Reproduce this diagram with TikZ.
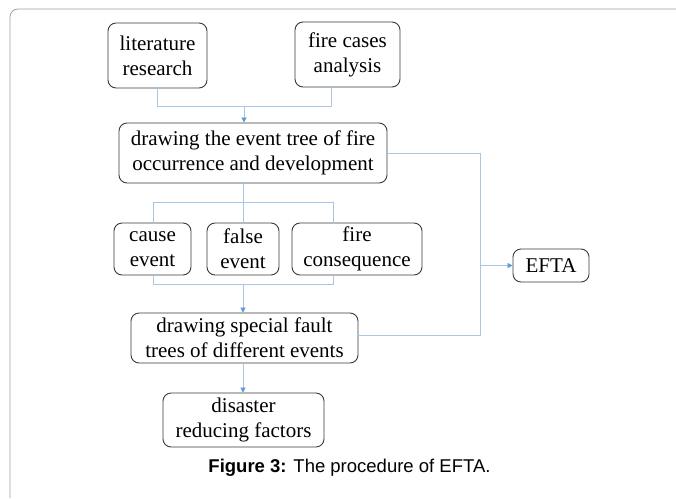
\documentclass[tikz,border=0pt]{standalone}
\usepackage{fontspec}
\setmainfont{Liberation Serif}
\newfontfamily\capfont{Liberation Sans}
\usetikzlibrary{arrows.meta}
\definecolor{lnk}{HTML}{A8C6E6}
\definecolor{arr}{HTML}{5B9BD5}
\definecolor{bd}{HTML}{3A3A3A}
\definecolor{frm}{HTML}{A0A0A0}
\begin{document}
\begin{tikzpicture}[x=1pt,y=-1pt,
  box/.style={draw=bd, line width=0.9pt, rounded corners=8pt, align=center, inner sep=0pt,
    font=\fontsize{21}{25}\selectfont},
  link/.style={draw=lnk, line width=0.8pt},
  tip/.style={-{Triangle[length=5pt,width=5pt,color=arr]}}]
\useasboundingbox (0,0) rectangle (676,498);
\draw[frm, line width=0.8pt, rounded corners=8pt] (10,498) -- (10,9) -- (676,9);

\node[box, minimum width=99pt, minimum height=65pt] (lit) at (157.5,55.5) {literature\\research};
\node[box, minimum width=105pt, minimum height=65pt] (fire) at (347.5,54.5) {fire cases\\analysis};
\node[box, minimum width=268pt, minimum height=60pt] (dr) at (253,153) {drawing the event tree of fire\\occurrence and development};
\node[box, minimum width=77pt, minimum height=52pt] (cause) at (152.5,249) {cause\\event};
\node[box, minimum width=72pt, minimum height=52pt] (false) at (243,249) {false\\event};
\node[box, minimum width=130pt, minimum height=52pt] (cons) at (357,249) {fire\\consequence};
\node[box, minimum width=227pt, minimum height=50pt] (sp) at (244.5,338) {drawing special fault\\trees of different events};
\node[box, minimum width=76pt, minimum height=33pt] (efta) at (551,265.5) {EFTA};
\node[box, minimum width=161pt, minimum height=54pt] (dis) at (243.5,420) {disaster\\reducing factors};
\node[font=\capfont\fontsize{18.5}{22}\selectfont, inner sep=0pt] (cap) at (349.5,468) {\textbf{Figure 3:} The procedure of EFTA.};

\coordinate (fout) at (331,87);
\coordinate (t1) at (157.5,106);
\coordinate (j1) at (244,106);
\coordinate (j2) at (243,202);
\coordinate (cL) at (153,202);
\coordinate (cR) at (333,202);
\coordinate (bL) at (153,284);
\coordinate (bR) at (333,284);
\coordinate (j3) at (243,284);
\coordinate (rT) at (480,153);
\coordinate (rB) at (480,335);

\draw[link] (lit.south) -- (t1) -| (fout);
\draw[link,tip] (j1) -- (j1 |- dr.north);
\draw[link] (j2 |- dr.south) -- (j2);
\draw[link] (cL |- cause.north) -- (cL) -- (cR) -- (cR |- cons.north);
\draw[link] (j2) -- (false.north);
\draw[link] (bL |- cause.south) -- (bL) -- (bR) -- (bR |- cons.south);
\draw[link,tip] (j3) -- (j3 |- sp.north);
\draw[link] (dr.east) -- (rT) -- (rB) -- (rB -| sp.east);
\draw[link,tip] (rT |- efta.west) -- (efta.west);
\draw[link,tip] (j3 |- sp.south) -- (j3 |- dis.north);
\end{tikzpicture}
\end{document}
